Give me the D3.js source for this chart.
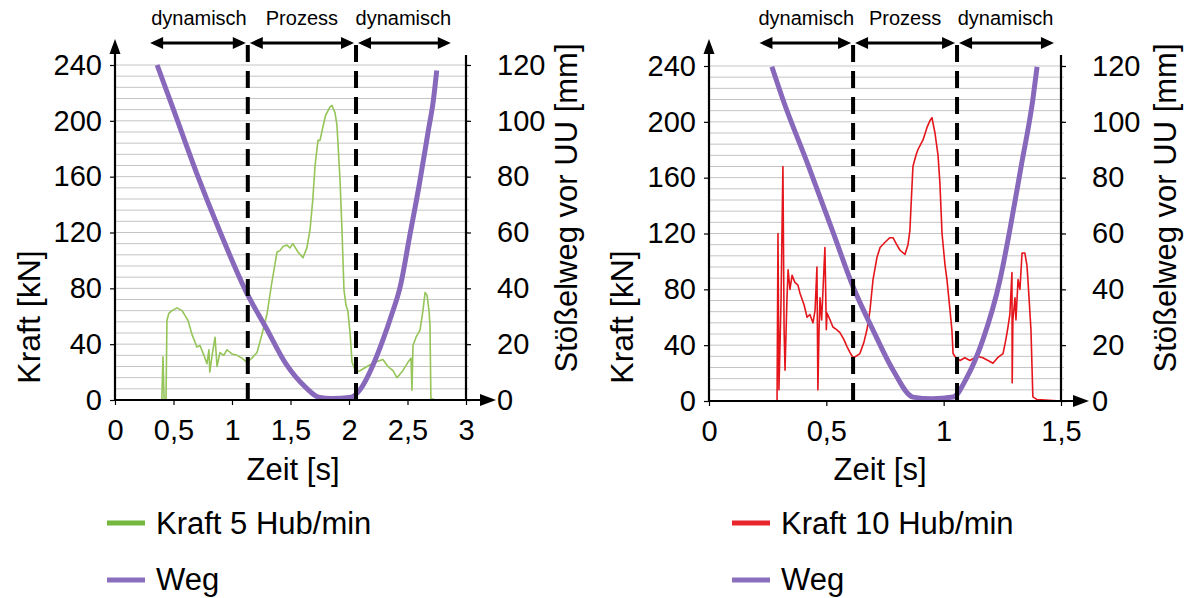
<!DOCTYPE html>
<html><head><meta charset="utf-8">
<script src="https://cdn.jsdelivr.net/npm/d3@7"></script>
<style>
html,body{margin:0;padding:0;background:#fff;}
svg{display:block;font-family:"Liberation Sans",Arial,sans-serif;}
</style></head>
<body>
<svg id="chart" width="1193" height="598"></svg>
<script>
// ---------- data ----------
const forceTicks = [0, 40, 80, 120, 160, 200, 240];
const wegTicks = [0, 20, 40, 60, 80, 100, 120];
const timeTicksLeft = [0, 0.5, 1, 1.5, 2, 2.5, 3];
const timeTicksRight = [0, 0.5, 1, 1.5];
const phaseLabels = ["dynamisch", "Prozess", "dynamisch"];
const phaseBoundsLeft = [0.30, 1.135, 2.06, 2.87];
const phaseBoundsRight = [0.215, 0.614, 1.057, 1.47];
const legendLeft = ["Kraft 5 Hub/min", "Weg"];
const legendRight = ["Kraft 10 Hub/min", "Weg"];
const axisTitleForce = "Kraft [kN]";
const axisTitleWeg = "Stößelweg vor UU [mm]";
const axisTitleTime = "Zeit [s]";

// Kraft 5 Hub/min (kN) over time (s)
const force5Time = [0, 0.40, 0.41, 0.42, 0.436, 0.444, 0.46, 0.487, 0.53, 0.573, 0.624, 0.658, 0.70, 0.727, 0.76, 0.786, 0.803, 0.81, 0.83, 0.855, 0.872, 0.897, 0.93, 0.957, 1.0, 1.043, 1.085, 1.128, 1.17, 1.214, 1.256, 1.30, 1.34, 1.385, 1.41, 1.436, 1.47, 1.496, 1.52, 1.564, 1.607, 1.64, 1.667, 1.69, 1.71, 1.735, 1.752, 1.77, 1.80, 1.838, 1.855, 1.88, 1.897, 1.923, 1.94, 1.957, 1.974, 1.99, 2.01, 2.026, 2.06, 2.094, 2.154, 2.22, 2.29, 2.333, 2.376, 2.41, 2.46, 2.504, 2.53, 2.538, 2.547, 2.573, 2.607, 2.632, 2.65, 2.667, 2.684, 2.692, 2.70, 2.744];
const force5Value = [0, 0, 31, 0, 0, 57, 62, 64, 66, 64, 57, 47, 38, 39, 32, 26, 36, 20, 32, 45, 24, 34, 32, 36, 33, 32, 30, 27, 30, 34, 47, 62, 84, 106, 107, 110, 111, 109, 112, 106, 102, 109, 122, 143, 168, 186, 186, 193, 204, 210, 211, 206, 197, 158, 122, 79, 68, 64, 47, 27, 20, 21, 24, 27, 29, 24, 21, 16, 21, 27, 30, 7, 39, 45, 50, 64, 77, 75, 64, 54, 1, 0];

// Weg (mm) for 5 Hub/min
const weg5Time = [0.36, 0.50, 0.70, 0.90, 1.13, 1.29, 1.46, 1.63, 1.74, 1.85, 2.02, 2.10, 2.20, 2.29, 2.36, 2.44, 2.52, 2.60, 2.68, 2.72, 2.75];
const weg5Value = [120, 104, 81, 60, 38, 26, 13, 4.5, 1, 0.5, 1, 4, 12, 21.5, 30, 41, 59, 77, 97, 107, 118];

// Kraft 10 Hub/min (kN) over time (s)
const force10Time = [0, 0.29, 0.294, 0.298, 0.307, 0.315, 0.32, 0.324, 0.332, 0.337, 0.345, 0.354, 0.366, 0.379, 0.388, 0.405, 0.418, 0.43, 0.443, 0.452, 0.46, 0.464, 0.469, 0.473, 0.48, 0.494, 0.50, 0.503, 0.516, 0.528, 0.545, 0.558, 0.575, 0.588, 0.60, 0.614, 0.626, 0.643, 0.66, 0.673, 0.686, 0.699, 0.716, 0.729, 0.746, 0.758, 0.771, 0.784, 0.797, 0.814, 0.835, 0.848, 0.856, 0.869, 0.882, 0.89, 0.912, 0.929, 0.942, 0.95, 0.963, 0.976, 0.984, 0.993, 1.006, 1.014, 1.027, 1.035, 1.04, 1.052, 1.07, 1.09, 1.112, 1.142, 1.167, 1.189, 1.21, 1.23, 1.253, 1.265, 1.274, 1.282, 1.291, 1.292, 1.295, 1.304, 1.308, 1.317, 1.325, 1.334, 1.346, 1.355, 1.359, 1.372, 1.38, 1.398, 1.50];
const force10Value = [0, 0, 120, 8, 72, 168, 51, 22, 72, 94, 80, 90, 85, 83, 77, 69, 60, 62, 56, 65, 96, 8, 51, 74, 58, 110, 51, 63, 58, 53, 51, 49, 44, 39, 35, 31, 32, 34, 42, 51, 65, 87, 103, 110, 113, 115, 117, 117, 113, 108, 105, 112, 122, 168, 176, 180, 187, 196, 201, 203, 192, 176, 156, 120, 97, 87, 65, 51, 34, 31, 29, 31, 29, 32, 31, 29, 27, 31, 34, 44, 53, 62, 92, 13, 58, 74, 58, 87, 80, 106, 106, 97, 87, 51, 3, 1, 0];

// Weg (mm) for 10 Hub/min
const weg10Time = [0.268, 0.315, 0.42, 0.528, 0.614, 0.699, 0.784, 0.869, 0.95, 1.04, 1.10, 1.167, 1.24, 1.282, 1.33, 1.38, 1.398];
const weg10Value = [119.7, 108, 85, 60.6, 40.9, 25.4, 11.1, 1.4, 0.8, 1.4, 8.6, 21.9, 43.4, 61.3, 84, 108, 119.7];

// ---------- drawing ----------
const svg = d3.select("#chart");
const fmt = d => String(d).replace(".", ",");
const zip = (ts, vs) => ts.map((t, i) => ({t: t, v: vs[i]}));

function panel(cfg) {
  const x = d3.scaleLinear().domain([0, cfg.tMax]).range([cfg.x0, cfg.x1]);
  const yF = d3.scaleLinear().domain([0, 240]).range([cfg.y0, cfg.yTop]);
  const yW = d3.scaleLinear().domain([0, 120]).range([cfg.y0, cfg.yTop]);
  const g = svg.append("g");

  // gridlines every 8 kN
  g.append("g").selectAll("line").data(d3.range(8, 241, 8)).join("line")
    .attr("x1", cfg.x0).attr("x2", cfg.x1 + 3)
    .attr("y1", d => yF(d)).attr("y2", d => yF(d))
    .attr("stroke", "#c4c4c4").attr("stroke-width", 1);

  // force line
  g.append("path").datum(zip(cfg.fT, cfg.fV))
    .attr("fill", "none").attr("stroke", cfg.fColor).attr("stroke-width", 1.6)
    .attr("stroke-linejoin", "round")
    .attr("d", d3.line().x(d => x(d.t)).y(d => yF(d.v)));

  // weg line
  g.append("path").datum(zip(cfg.wT, cfg.wV))
    .attr("fill", "none").attr("stroke", "#8768bb").attr("stroke-width", 5)
    .attr("stroke-linejoin", "round").attr("stroke-linecap", "butt")
    .attr("d", d3.line().curve(d3.curveMonotoneX).x(d => x(d.t)).y(d => yW(d.v)));

  // dashed phase boundaries
  const b = cfg.bounds;
  g.append("g").selectAll("line").data([b[1], b[2]]).join("line")
    .attr("x1", d => x(d)).attr("x2", d => x(d))
    .attr("y1", 45).attr("y2", cfg.y0 - 1)
    .attr("stroke", "#000").attr("stroke-width", 4)
    .attr("stroke-dasharray", "17,9");

  // phase arrows
  const ay = 43;
  const segs = [[b[0], b[1]], [b[1], b[2]], [b[2], b[3]]];
  segs.forEach((s, i) => {
    const xa = x(s[0]) + (i === 0 ? 0 : 2), xb = x(s[1]) - (i === 2 ? 0 : 2);
    g.append("line").attr("x1", xa + 8).attr("x2", xb - 8).attr("y1", ay).attr("y2", ay)
      .attr("stroke", "#000").attr("stroke-width", 3);
    g.append("path").attr("d", `M${xa},${ay} L${xa + 13},${ay - 6} L${xa + 13},${ay + 6} Z`).attr("fill", "#000");
    g.append("path").attr("d", `M${xb},${ay} L${xb - 13},${ay - 6} L${xb - 13},${ay + 6} Z`).attr("fill", "#000");
    g.append("text").attr("x", x((s[0] + s[1]) / 2)).attr("y", 25)
      .attr("text-anchor", "middle").attr("font-size", 20).attr("fill", "#000")
      .text(phaseLabels[i]);
  });

  // axes
  const ax = g.append("g").attr("transform", `translate(${cfg.x0},0)`)
    .call(d3.axisLeft(yF).tickValues(forceTicks).tickSize(5).tickPadding(8));
  const axR = g.append("g").attr("transform", `translate(${cfg.x1},0)`)
    .call(d3.axisRight(yW).tickValues(wegTicks).tickSize(5).tickPadding(26));
  const axB = g.append("g").attr("transform", `translate(0,${cfg.y0})`)
    .call(d3.axisBottom(x).tickValues(cfg.tTicks).tickFormat(fmt).tickSize(5).tickPadding(14));
  [ax, axR, axB].forEach(a => {
    a.select(".domain").remove();
    a.selectAll(".tick line").attr("stroke", "#000").attr("stroke-width", 1.2);
    a.selectAll(".tick text").attr("font-size", 29).attr("fill", "#000")
      .attr("font-family", '"Liberation Sans", Arial, sans-serif');
  });

  // axis lines and arrows
  g.append("line").attr("x1", cfg.x0).attr("x2", cfg.x0).attr("y1", cfg.y0 + 1).attr("y2", 50)
    .attr("stroke", "#000").attr("stroke-width", 2.2);
  g.append("path").attr("d", `M${cfg.x0 - 5.5},${54} L${cfg.x0},${39} L${cfg.x0 + 5.5},${54} Z`).attr("fill", "#000");
  g.append("line").attr("x1", cfg.x0 - 1).attr("x2", cfg.arrowTip - 10).attr("y1", cfg.y0).attr("y2", cfg.y0)
    .attr("stroke", "#000").attr("stroke-width", 2.2);
  g.append("path").attr("d", `M${cfg.arrowTip - 16},${cfg.y0 - 6} L${cfg.arrowTip},${cfg.y0} L${cfg.arrowTip - 16},${cfg.y0 + 6} Z`).attr("fill", "#000");
  g.append("line").attr("x1", cfg.x1).attr("x2", cfg.x1).attr("y1", 55).attr("y2", cfg.y0)
    .attr("stroke", "#000").attr("stroke-width", 2.2);

  // axis titles
  g.append("text").attr("transform", `translate(${cfg.titleLX},${317}) rotate(-90)`)
    .attr("text-anchor", "middle").attr("font-size", 32).attr("fill", "#000").text(axisTitleForce);
  g.append("text").attr("transform", `translate(${cfg.titleRX},${208}) rotate(-90)`)
    .attr("text-anchor", "middle").attr("font-size", 31).attr("fill", "#000").text(axisTitleWeg);
  g.append("text").attr("x", cfg.titleBX).attr("y", 480)
    .attr("text-anchor", "middle").attr("font-size", 31).attr("fill", "#000").text(axisTitleTime);

  // legend
  const leg = [[cfg.legend[0], cfg.legColor, 523, 534], [cfg.legend[1], "#8a6fbd", 580, 590]];
  leg.forEach(l => {
    g.append("line").attr("x1", cfg.legX).attr("x2", cfg.legX + 38).attr("y1", l[2]).attr("y2", l[2])
      .attr("stroke", l[1]).attr("stroke-width", 5);
    g.append("text").attr("x", cfg.legX + 49).attr("y", l[3]).attr("font-size", 31).attr("fill", "#000").text(l[0]);
  });
}

panel({x0: 115, x1: 466, y0: 400, yTop: 65, tMax: 3, tTicks: timeTicksLeft, arrowTip: 496,
  fT: force5Time, fV: force5Value, fColor: "#95c458",
  wT: weg5Time, wV: weg5Value, bounds: phaseBoundsLeft,
  titleLX: 40, titleRX: 577, titleBX: 293, legX: 107, legend: legendLeft, legColor: "#74b83f"});

panel({x0: 709, x1: 1061, y0: 401, yTop: 66, tMax: 1.5, tTicks: timeTicksRight, arrowTip: 1089,
  fT: force10Time, fV: force10Value, fColor: "#e4161c",
  wT: weg10Time, wV: weg10Value, bounds: phaseBoundsRight,
  titleLX: 633, titleRX: 1176, titleBX: 880, legX: 732, legend: legendRight, legColor: "#e8262b"});
</script>
</body></html>
